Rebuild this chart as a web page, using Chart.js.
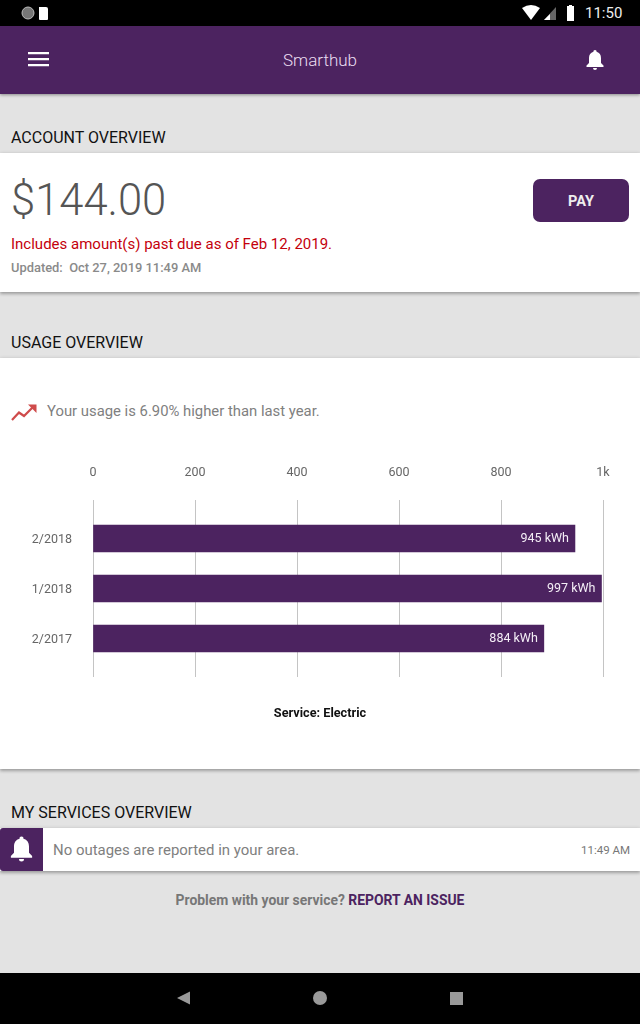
<!DOCTYPE html>
<html><head><meta charset="utf-8">
<script src="https://cdn.jsdelivr.net/npm/chart.js@4"></script>
<style>
html,body{margin:0;padding:0;background:#e3e3e3}
body{width:640px;height:1024px;position:relative;overflow:hidden;font-family:Roboto,sans-serif}
.a{position:absolute;white-space:nowrap;line-height:1}
.card{position:absolute;left:0;width:640px;background:#fff;box-shadow:0 2px 3px rgba(0,0,0,.3),0 -1px 3px rgba(0,0,0,.07)}
.h{font-size:16px;color:#111;left:11px}
svg{position:absolute}
canvas{position:absolute;left:0;top:456px}
</style></head><body>
<div class="a" style="left:0;top:0;width:640px;height:26px;background:#000"></div>
<svg style="left:20px;top:5px" width="40" height="16"><circle cx="8" cy="8" r="6" fill="#777" stroke="#bbb"/><path d="M19 2h7a2 2 0 0 1 2 2v10a1 1 0 0 1-1 1H20a1 1 0 0 1-1-1z" fill="#fff"/></svg>
<svg style="left:520px;top:4px" width="60" height="18"><path d="M2 4Q11-2 20 4L11 16z" fill="#fff"/><path d="M36 3V16H24z" fill="#666"/><path d="M30 10V16H24z" fill="#fff"/><path d="M47 3h2V2h3v1h2v15h-7z" fill="#fff" transform="translate(0,-1)"/></svg>
<div class="a" style="left:585px;top:6px;font-size:15px;color:#eee">11:50</div>
<div class="a" style="left:0;top:26px;width:640px;height:68px;background:#4c2360;box-shadow:0 1px 3px rgba(0,0,0,.4)"></div>
<svg style="left:28px;top:52px" width="21" height="15"><path d="M0 1.2H21M0 7.2H21M0 13.2H21" stroke="#fff" stroke-width="2.2"/></svg>
<div class="a" style="left:0;width:640px;text-align:center;top:52px;font-size:17px;font-weight:300;color:#eadcf0">Smarthub</div>
<svg style="left:585px;top:49px" width="20" height="22" viewBox="0 0 20 22"><path d="M10 1a1.6 1.6 0 0 1 1.6 1.8C14.600 3.600 16 6 16 9v5l2.500 2.500V18H1.500v-1.500L4 14V9c0-3 1.400-5.400 4.400-6.200A1.600 1.600 0 0 1 10 1zM8 19h4a2 2 0 0 1-4 0z" fill="#fff"/></svg>

<div class="a h" style="top:130px">ACCOUNT OVERVIEW</div>
<div class="card" style="top:153px;height:139px"></div>
<div class="a" style="left:11px;top:179px;font-size:43.5px;font-weight:300;color:#555">$144.00</div>
<div class="a" style="left:533px;top:179px;width:96px;height:43px;background:#4c2360;border-radius:7px;color:#eee;font-weight:700;font-size:14.500px;line-height:45px;text-align:center">PAY</div>
<div class="a" style="left:11px;top:237px;font-size:15px;color:#c4000c">Includes amount(s) past due as of Feb 12, 2019.</div>
<div class="a" style="left:11px;top:262px;font-size:12.900px;color:#8a8a8a;font-weight:500">Updated:&nbsp; Oct 27, 2019 11:49 AM</div>

<div class="a h" style="top:335px">USAGE OVERVIEW</div>
<div class="card" style="top:358px;height:411px"></div>
<svg style="left:11px;top:403px" width="26" height="18"><path d="M1 17L8 9.500 13 13 23 3" fill="none" stroke="#cf4b4b" stroke-width="2.200"/><path d="M17 1.500H25.500V10z" fill="#cf4b4b"/></svg>
<div class="a" style="left:47px;top:404px;font-size:14.850px;color:#808080">Your usage is 6.90% higher than last year.</div>

<canvas id="c" width="640" height="274" style="width:640px;height:274px"></canvas>
<div class="a" id="service" style="left:0;width:640px;text-align:center;top:707px;font-size:12.700px;font-weight:700;color:#111"></div>

<div class="a h" style="top:805px">MY SERVICES OVERVIEW</div>
<div class="card" style="top:828px;height:43px"></div>
<div class="a" style="left:0;top:828px;width:43px;height:43px;background:#4c2360;border-radius:3px 0 0 3px"></div>
<svg style="left:9px;top:835px" width="25" height="28" viewBox="0 0 20 22"><path d="M10 1a1.600 1.600 0 0 1 1.600 1.800C14.600 3.600 16 6 16 9v5l2.500 2.500V18H1.500v-1.500L4 14V9c0-3 1.400-5.400 4.400-6.200A1.600 1.600 0 0 1 10 1zM8 19h4a2 2 0 0 1-4 0z" fill="#fff"/></svg>
<div class="a" style="left:53px;top:843px;font-size:14.950px;color:#808080">No outages are reported in your area.</div>
<div class="a" style="right:10px;top:845px;font-size:11.500px;color:#777">11:49 AM</div>
<div class="a" style="left:0;width:640px;text-align:center;top:894px;font-size:13.900px;font-weight:700;color:#777">Problem with your service? <span style="color:#4c2360">REPORT AN ISSUE</span></div>

<div class="a" style="left:0;top:973px;width:640px;height:51px;background:#000"></div>
<svg style="left:170px;top:985px" width="300" height="26"><path d="M7 13L20 6.500V19.500z" fill="#999"/><circle cx="150" cy="13" r="7" fill="#999"/><rect x="280" y="7" width="13" height="13" fill="#999"/></svg>

<script>
const categories = ["2/2018", "1/2018", "2/2017"];
const usageKwh = [945, 997, 884];
const xTicks = [0, 200, 400, 600, 800, 1000];
const serviceTitle = "Service: Electric";

document.getElementById("service").textContent = serviceTitle;

const barLabels = {
  id: "barLabels",
  afterDatasetsDraw(chart) {
    const ctx = chart.ctx;
    ctx.save();
    ctx.font = "12.5px Roboto";
    ctx.fillStyle = "#f4eef6";
    ctx.textAlign = "right";
    ctx.textBaseline = "middle";
    chart.getDatasetMeta(0).data.forEach((bar, i) => {
      ctx.fillText(usageKwh[i] + " kWh", bar.x - 6, bar.y + 0.5);
    });
    ctx.restore();
  }
};

new Chart(document.getElementById("c"), {
  type: "bar",
  data: {
    datasets: [{
      data: usageKwh.map((v, i) => ({ x: v, y: i })),
      backgroundColor: "#4c2360",
      barThickness: 27
    }]
  },
  options: {
    indexAxis: "y",
    responsive: false,
    animation: false,
    devicePixelRatio: 1,
    layout: { padding: { right: 37, top: 0, bottom: 53, left: 0 } },
    plugins: {
      legend: { display: false },
      tooltip: { enabled: false },
      title: { display: false }
    },
    scales: {
      x: {
        position: "top",
        min: 0,
        max: 1000,
        afterBuildTicks(s) { s.ticks = xTicks.map(v => ({ value: v })); },
        afterFit(s) { s.height = 44; },
        grid: { color: "#c4c4c4", drawTicks: false, lineWidth: 1 },
        border: { display: false },
        ticks: {
          padding: 20,
          color: "#666",
          font: { family: "Roboto", size: 12.5 },
          maxRotation: 0,
          callback: v => (v === 1000 ? "1k" : String(v))
        }
      },
      y: {
        type: "linear",
        reverse: true,
        offset: false,
        min: -0.77,
        max: 2.77,
        afterBuildTicks(s) { s.ticks = categories.map((c, i) => ({ value: i })); },
        afterFit(s) { s.width = 93; },
        grid: { display: false, drawTicks: false },
        border: { display: false },
        ticks: {
          padding: 21,
          labelOffset: 1,
          color: "#666",
          font: { family: "Roboto", size: 12.5 },
          callback: v => categories[v]
        }
      }
    }
  },
  plugins: [barLabels]
});
</script>
</body></html>
